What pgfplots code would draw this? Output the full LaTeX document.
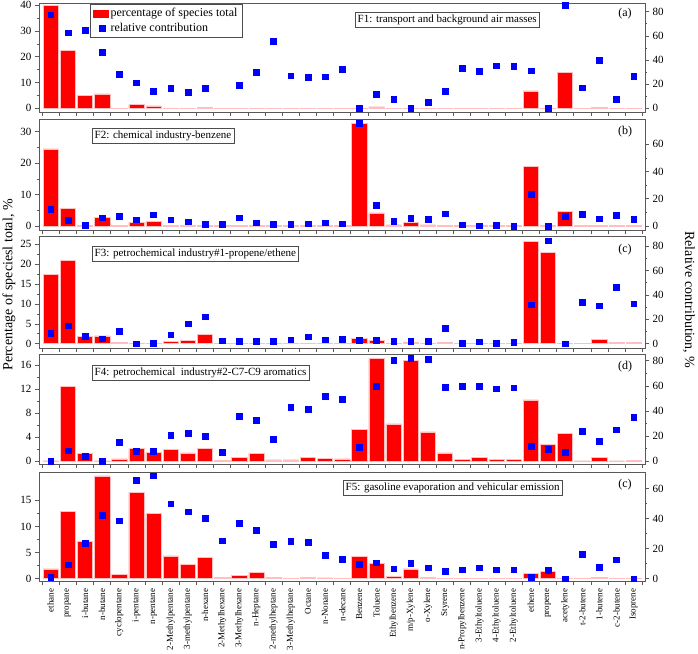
\documentclass[border=0pt]{standalone}
\usepackage{fontspec}
\setmainfont{Liberation Serif}
\usepackage{pgfplots}
\pgfplotsset{compat=1.18}
\usepackage{pgfplotstable}

% columns: category index, percentage of species total, relative contribution
\pgfplotstableread{
i bar rel
0 39.9 77.5
1 22.6 62.6
2 5.0 64.6
3 5.6 46.3
4 0.1 28.4
5 1.4 21.2
6 0.9 14.3
7 0.1 16.6
8 0.1 13.2
9 0.5 16.6
10 0.1 62.6
11 0.1 19.0
12 0.1 30.1
13 0.1 55.4
14 0.1 27.0
15 0.1 25.7
16 0.1 26.2
17 0.1 32.3
18 0.1 0
19 0.6 11.6
20 0.1 7.7
21 0.1 0
22 0.1 5.0
23 0.1 14.3
24 0.1 33.1
25 0.1 30.9
26 0.1 35.3
27 0.1 35.0
28 6.8 31.2
29 0.1 0
30 14.0 85.2
31 0.1 17.1
32 0.3 40.0
33 0.1 7.7
34 0.1 26.8
}\fone
\pgfplotstableread{
i bar rel
0 24.5 12.5
1 5.6 4.2
2 0.1 0.7
3 2.8 6.1
4 0.1 7.1
5 1.2 4.7
6 1.5 8.3
7 0.3 4.7
8 0.1 3.2
9 0.1 1.2
10 0.1 1.2
11 0.1 6.1
12 0.1 2.4
13 0.1 1.2
14 0.1 1.5
15 0.1 1.7
16 0.1 2.4
17 0.1 1.7
18 32.7 75.4
19 4.2 15.4
20 0.4 3.7
21 1.05 5.9
22 0.4 4.9
23 0.1 9.1
24 0.1 1.0
25 0.1 0.2
26 0.1 0.7
27 0.1 0
28 18.9 23.5
29 0.1 0
30 4.6 7.1
31 0.1 8.8
32 0.1 5.4
33 0.1 8.1
34 0.1 5.1
}\ftwo
\pgfplotstableread{
i bar rel
0 17.4 8.7
1 21.0 14.7
2 1.85 6.3
3 2.0 4.1
4 0.25 10.1
5 0.1 0
6 0.1 0.5
7 0.65 7.4
8 0.9 16.4
9 2.35 22.1
10 0.1 2.5
11 0.1 1.9
12 0.1 2.2
13 0.1 2.2
14 0.1 3.3
15 0.1 5.7
16 0.1 3.3
17 0.1 3.8
18 1.3 2.7
19 0.75 2.7
20 0.1 1.9
21 0.4 1.9
22 0.1 2.2
23 0.3 12.8
24 0.1 0.5
25 0.1 1.6
26 0.1 0.5
27 0.1 1.1
28 25.8 31.9
29 23.0 84.4
30 0.1 0
31 0.1 33.9
32 1.1 31.1
33 0.25 46.4
34 0.25 32.8
}\fthree
\pgfplotstableread{
i bar rel
0 0.05 0
1 12.5 8.5
2 1.3 4.3
3 0.05 0.3
4 0.4 15.4
5 2.1 8.2
6 1.5 8.0
7 1.95 20.7
8 1.4 22.6
9 2.1 19.9
10 0.1 7.4
11 0.7 35.9
12 1.3 32.4
13 0.25 17.8
14 0.25 43.1
15 0.6 41.7
16 0.45 51.8
17 0.4 49.2
18 5.3 11.4
19 17.1 59.5
20 6.2 80.3
21 16.8 82.1
22 4.9 81.1
23 1.4 59.0
24 0.3 59.8
25 0.6 59.5
26 0.3 57.7
27 0.3 58.5
28 10.2 12.0
29 2.8 9.8
30 4.7 7.2
31 0.05 24.2
32 0.65 15.9
33 0.05 25.2
34 0.2 35.1
}\ffour
\pgfplotstableread{
i bar rel
0 1.9 1.1
1 12.9 9.3
2 7.15 23.8
3 19.65 42.2
4 0.85 38.7
5 16.5 65.6
6 12.45 68.7
7 4.35 50.0
8 2.7 44.7
9 4.1 40.2
10 0.25 25.3
11 0.7 37.1
12 1.2 32.2
13 0.25 22.9
14 0.05 24.9
15 0.25 24.2
16 0.15 15.8
17 0.05 13.1
18 4.3 9.8
19 2.9 10.7
20 0.45 6.7
21 1.9 10.4
22 0.3 7.3
23 0.05 5.1
24 0.05 6.0
25 0.05 7.3
26 0.05 6.0
27 0.05 6.0
28 1.0 1.1
29 1.4 5.6
30 0.05 0
31 0.05 16.2
32 0.2 7.6
33 0.05 12.7
34 0.05 0
}\ffive

\tikzset{
  fbox/.style={draw=black!70, fill=white, anchor=north west, inner sep=2.5pt,
    font=\fontsize{11}{12}\selectfont},
  tag/.style={font=\fontsize{12}{13}\selectfont},
}
\pgfplotsset{
  panel/.style={scale only axis, width=606pt, xmin=-0.68, xmax=34.66,
    anchor=north west, clip=false,
    axis line style={black!65, line width=0.6pt},
    tick style={black!65, line width=0.6pt}, tick align=outside,
    major tick length=4pt, minor tick length=2.2pt,
    tick label style={font=\fontsize{11}{12}\selectfont},
    /pgf/number format/assume math mode=true},
  leftpanel/.style={panel, ybar, bar width=15.3pt, ytick pos=left,
    xtick pos=bottom, xtick={0,...,34}, xticklabels={},
    major x tick style={draw=none},
    minor xtick={-0.5,0.5,...,34.5}, minor x tick style={/pgfplots/minor tick length=4pt},
    minor y tick num=1},
  rightpanel/.style={panel, axis y line*=right, axis x line=none, minor y tick num=1},
  barplot/.style={fill=red, draw=red!25, line width=0.5pt},
  relplot/.style={only marks, mark=square*, mark size=2.9pt, color=blue,
    mark options={fill=blue, draw=blue}},
}

\begin{document}
\begin{tikzpicture}
\path[use as bounding box] (-39pt,3pt) rectangle (659pt,-650pt);

% ---- F1
\begin{axis}[leftpanel, at={(0pt,0pt)}, height=109pt, ymin=-1.44, ymax=40.89, ytick={0,10,...,40}]
\addplot[barplot] table[x=i, y=bar] {\fone};
\node[fbox] at (axis description cs:0.5215,0.917) {F1: transport and background air masses};
\node[tag] at (axis description cs:0.967,0.899) {(a)};
\end{axis}
\begin{axis}[rightpanel, at={(0pt,0pt)}, height=109pt, ymin=-3.06, ymax=87.2, ytick={0,20,...,80},
  legend style={at={(axis description cs:0.084,0.99)}, anchor=north west, draw=black!70,
    font=\fontsize{12}{13}\selectfont, inner xsep=3pt, inner ysep=2pt, row sep=1pt},
  legend cell align=left]
\addlegendimage{legend image code/.code={\fill[red] (0pt,-3.5pt) rectangle (15pt,3.5pt);}}
\addlegendentry{percentage of species total}
\addplot[relplot] table[x=i, y=rel] {\fone};
\addlegendentry{relative contribution}
\end{axis}

% ---- F2
\begin{axis}[leftpanel, at={(0pt,-116pt)}, height=111pt, ymin=-1.27, ymax=34.04, ytick={0,10,20,30}]
\addplot[barplot] table[x=i, y=bar] {\ftwo};
\node[fbox] at (axis description cs:0.0875,0.919) {F2: chemical industry-benzene};
\node[tag] at (axis description cs:0.967,0.883) {(b)};
\end{axis}
\begin{axis}[rightpanel, at={(0pt,-116pt)}, height=111pt, ymin=-2.94, ymax=78.6, ytick={0,20,40,60}]
\addplot[relplot] table[x=i, y=rel] {\ftwo};
\end{axis}

% ---- F3
\begin{axis}[leftpanel, at={(0pt,-233pt)}, height=112pt, ymin=-1.08, ymax=27.09, ytick={0,5,...,25}]
\addplot[barplot] table[x=i, y=bar] {\fthree};
\node[fbox] at (axis description cs:0.0875,0.911) {F3: petrochemical industry\#1-propene/ethene};
\node[tag] at (axis description cs:0.967,0.875) {(c)};
\end{axis}
\begin{axis}[rightpanel, at={(0pt,-233pt)}, height=112pt, ymin=-3.52, ymax=88.2, ytick={0,20,...,80}]
\addplot[relplot] table[x=i, y=rel] {\fthree};
\end{axis}

% ---- F4
\begin{axis}[leftpanel, at={(0pt,-351pt)}, height=110pt, ymin=-0.45, ymax=17.83, ytick={0,4,...,16}]
\addplot[barplot] table[x=i, y=bar] {\ffour};
\node[fbox] at (axis description cs:0.0875,0.9) {F4: petrochemical\ \ industry\#2-C7-C9 aromatics};
\node[tag] at (axis description cs:0.967,0.882) {(d)};
\end{axis}
\begin{axis}[rightpanel, at={(0pt,-351pt)}, height=110pt, ymin=-2.15, ymax=85.3, ytick={0,20,...,80}]
\addplot[relplot] table[x=i, y=rel] {\ffour};
\end{axis}

% ---- F5
\begin{axis}[leftpanel, at={(0pt,-469pt)}, height=109pt, ymin=-0.44, ymax=20.41, ytick={0,5,10,15},
  xticklabels={ethane, propane, i-butane, n-butane, cyclopentane, i-pentane, n-pentane,
    2-Methylpentane, 3-methylpentane, n-hexane, 2-Methylhexane, 3-Methylhexane, n-Heptane,
    2-methylheptane, 3-Methylheptane, Octane, n-Nonane, n-decane, Benzene, Toluene,
    Ethylbenzene, m/p-Xylene, o-Xylene, Styrene, n-Propylbenzene, 3-Ethyltoluene,
    4-Ethyltoluene, 2-Ethyltoluene, ethene, propene, acetylene, t-2-butene, 1-butene,
    c-2-butene, Isoprene},
  xticklabel style={rotate=90, anchor=east, font=\fontsize{9}{10}\selectfont}]
\addplot[barplot] table[x=i, y=bar] {\ffive};
\node[fbox] at (axis description cs:0.5017,0.927) {F5: gasoline evaporation and vehicular emission};
\node[tag] at (axis description cs:0.967,0.881) {(c)};
\end{axis}
\begin{axis}[rightpanel, at={(0pt,-469pt)}, height=109pt, ymin=-1.53, ymax=71.1, ytick={0,20,40,60}]
\addplot[relplot] table[x=i, y=rel] {\ffive};
\end{axis}

% axis titles
\node[rotate=90, font=\fontsize{14}{15}\selectfont] at (-30pt,-282pt) {Percentage of speciesl total, \%};
\node[rotate=-90, font=\fontsize{14}{15}\selectfont] at (650pt,-297pt) {Relative contribution, \%};
\end{tikzpicture}
\end{document}
